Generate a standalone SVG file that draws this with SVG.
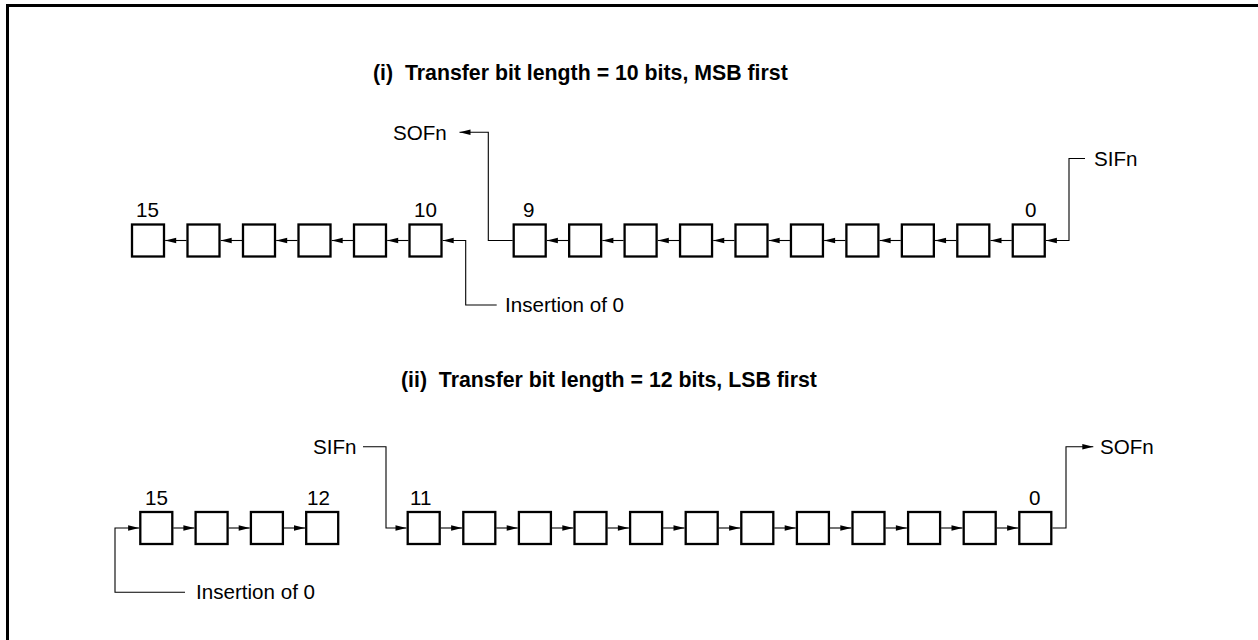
<svg xmlns="http://www.w3.org/2000/svg" width="1258" height="640" viewBox="0 0 1258 640">
<defs>
<style>
.bit{fill:#fff;stroke:#000;stroke-width:2.3}
.lbl{font-family:"Liberation Sans",Arial,sans-serif;font-size:20.6px;fill:#000}
.ttl{font-family:"Liberation Sans",Arial,sans-serif;font-size:21.3px;font-weight:bold;fill:#000;white-space:pre}
.wire{fill:none;stroke:#000;stroke-width:1.1}
.arr{fill:none;stroke:#000;stroke-width:1.1;marker-end:url(#ah)}
</style>
<marker id="ah" markerUnits="userSpaceOnUse" markerWidth="12" markerHeight="7" viewBox="0 0 11 7" refX="11" refY="3.5" orient="auto">
<path d="M0,0.8 L11,3.5 L0,6.2 Z" fill="#000"/>
</marker>
</defs>
<rect width="1258" height="640" fill="#fff"/>
<path d="M7.5,640 V5.5 H1258" fill="none" stroke="#000" stroke-width="3"/>

<g id="titles">
<text id="title1" class="ttl" x="373" y="80">(i)  Transfer bit length = 10 bits, MSB first</text>
<text id="title2" class="ttl" x="401" y="387">(ii)  Transfer bit length = 12 bits, LSB first</text>
</g>

<!-- Row 1 nodes -->
<g id="r1-b15"><rect class="bit" x="132" y="224.5" width="32" height="32"/><text class="lbl" x="136" y="217">15</text></g>
<g id="r1-b14"><rect class="bit" x="187.5" y="224.5" width="32" height="32"/></g>
<g id="r1-b13"><rect class="bit" x="243" y="224.5" width="32" height="32"/></g>
<g id="r1-b12"><rect class="bit" x="298.5" y="224.5" width="32" height="32"/></g>
<g id="r1-b11"><rect class="bit" x="354" y="224.5" width="32" height="32"/></g>
<g id="r1-b10"><rect class="bit" x="409.5" y="224.5" width="32" height="32"/><text class="lbl" x="414" y="217">10</text></g>
<g id="r1-d9"><rect class="bit" x="513.7" y="224.5" width="32" height="32"/><text class="lbl" x="523" y="217">9</text></g>
<g id="r1-d8"><rect class="bit" x="569.15" y="224.5" width="32" height="32"/></g>
<g id="r1-d7"><rect class="bit" x="624.6" y="224.5" width="32" height="32"/></g>
<g id="r1-d6"><rect class="bit" x="680.05" y="224.5" width="32" height="32"/></g>
<g id="r1-d5"><rect class="bit" x="735.5" y="224.5" width="32" height="32"/></g>
<g id="r1-d4"><rect class="bit" x="790.95" y="224.5" width="32" height="32"/></g>
<g id="r1-d3"><rect class="bit" x="846.4" y="224.5" width="32" height="32"/></g>
<g id="r1-d2"><rect class="bit" x="901.85" y="224.5" width="32" height="32"/></g>
<g id="r1-d1"><rect class="bit" x="957.3" y="224.5" width="32" height="32"/></g>
<g id="r1-d0"><rect class="bit" x="1012.75" y="224.5" width="32" height="32"/><text class="lbl" x="1025" y="217">0</text></g>

<g id="r1-sofn"><text class="lbl" x="393" y="140">SOFn</text></g>
<g id="r1-sifn"><text class="lbl" x="1094" y="166">SIFn</text></g>
<g id="r1-ins"><text class="lbl" x="505" y="312">Insertion of 0</text></g>

<!-- Row 2 nodes -->
<g id="r2-b15"><rect class="bit" x="140.3" y="512" width="32" height="32"/><text class="lbl" x="145" y="505">15</text></g>
<g id="r2-b14"><rect class="bit" x="195.6" y="512" width="32" height="32"/></g>
<g id="r2-b13"><rect class="bit" x="250.9" y="512" width="32" height="32"/></g>
<g id="r2-b12"><rect class="bit" x="306.2" y="512" width="32" height="32"/><text class="lbl" x="307" y="505">12</text></g>
<g id="r2-d11"><rect class="bit" x="407.7" y="512" width="32" height="32"/><text class="lbl" x="410" y="505">11</text></g>
<g id="r2-d10"><rect class="bit" x="463.3" y="512" width="32" height="32"/></g>
<g id="r2-d9"><rect class="bit" x="518.9" y="512" width="32" height="32"/></g>
<g id="r2-d8"><rect class="bit" x="574.5" y="512" width="32" height="32"/></g>
<g id="r2-d7"><rect class="bit" x="630.1" y="512" width="32" height="32"/></g>
<g id="r2-d6"><rect class="bit" x="685.7" y="512" width="32" height="32"/></g>
<g id="r2-d5"><rect class="bit" x="741.3" y="512" width="32" height="32"/></g>
<g id="r2-d4"><rect class="bit" x="796.9" y="512" width="32" height="32"/></g>
<g id="r2-d3"><rect class="bit" x="852.5" y="512" width="32" height="32"/></g>
<g id="r2-d2"><rect class="bit" x="908.1" y="512" width="32" height="32"/></g>
<g id="r2-d1"><rect class="bit" x="963.7" y="512" width="32" height="32"/></g>
<g id="r2-d0"><rect class="bit" x="1019.3" y="512" width="32" height="32"/><text class="lbl" x="1029" y="505">0</text></g>

<g id="r2-sifn"><text class="lbl" x="313" y="453.5">SIFn</text></g>
<g id="r2-sofn"><text class="lbl" x="1100" y="453.5">SOFn</text></g>
<g id="r2-ins"><text class="lbl" x="196" y="599">Insertion of 0</text></g>

<g id="connectors">
<!-- row 1 shifts (leftward) -->
<path class="arr" d="M186.5,240.5 H165.2"/>
<path class="arr" d="M242,240.5 H220.7"/>
<path class="arr" d="M297.5,240.5 H276.2"/>
<path class="arr" d="M353,240.5 H331.7"/>
<path class="arr" d="M408.5,240.5 H387.2"/>
<path class="arr" d="M568.15,240.5 H546.9"/>
<path class="arr" d="M623.6,240.5 H602.35"/>
<path class="arr" d="M679.05,240.5 H657.8"/>
<path class="arr" d="M734.5,240.5 H713.25"/>
<path class="arr" d="M789.95,240.5 H768.7"/>
<path class="arr" d="M845.4,240.5 H824.15"/>
<path class="arr" d="M900.85,240.5 H879.6"/>
<path class="arr" d="M956.3,240.5 H935.05"/>
<path class="arr" d="M1011.75,240.5 H990.5"/>
<path class="arr" d="M512.7,240.5 H488.3 V132.3 H459.5"/>
<path class="arr" d="M1085,158.5 H1069 V240.5 H1045.9"/>
<path class="arr" d="M496.7,305 H465.7 V240.5 H442.7"/>
<!-- row 2 shifts (rightward) -->
<path class="arr" d="M173.3,528 H194.4"/>
<path class="arr" d="M228.6,528 H249.7"/>
<path class="arr" d="M283.9,528 H305"/>
<path class="arr" d="M440.7,528 H462.1"/>
<path class="arr" d="M496.3,528 H517.7"/>
<path class="arr" d="M551.9,528 H573.3"/>
<path class="arr" d="M607.5,528 H628.9"/>
<path class="arr" d="M663.1,528 H684.5"/>
<path class="arr" d="M718.7,528 H740.1"/>
<path class="arr" d="M774.3,528 H795.7"/>
<path class="arr" d="M829.9,528 H851.3"/>
<path class="arr" d="M885.5,528 H906.9"/>
<path class="arr" d="M941.1,528 H962.5"/>
<path class="arr" d="M996.7,528 H1018.1"/>
<path class="arr" d="M185,592.3 H115 V528 H139.1"/>
<path class="arr" d="M363,446.7 H386 V528 H406.5"/>
<path class="arr" d="M1052.5,528 H1066 V446.7 H1093.3"/>
</g>
</svg>
